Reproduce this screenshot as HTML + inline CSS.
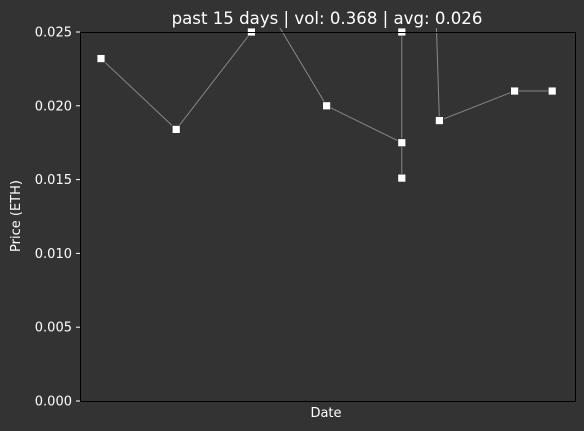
<!DOCTYPE html>
<html><head><meta charset="utf-8"><style>
html,body{margin:0;padding:0;background:#333;}
svg{display:block;font-family:"DejaVu Sans","Liberation Sans",sans-serif;}
</style></head><body>
<svg id="chart" width="584" height="431">
<rect width="584" height="431" fill="#333"/>
<text x="327" y="24" fill="#fff" font-size="16.6" text-anchor="middle">past 15 days | vol: 0.368 | avg: 0.026</text>
<text x="326" y="417" fill="#fff" font-size="13" text-anchor="middle">Date</text>
<text transform="translate(20,216) rotate(-90)" fill="#fff" font-size="13" text-anchor="middle">Price (ETH)</text>
<g id="yticks"></g>
<defs><clipPath id="clip"><rect x="80" y="28" width="496" height="374"/></clipPath></defs>
<g id="series" clip-path="url(#clip)"></g>
<rect x="80.5" y="32.5" width="495" height="369" fill="none" stroke="#000" stroke-width="1"/>
</svg>
<script>
const dayIndex = [0, 1, 2, 2.2, 3, 4, 4, 4, 4.4, 4.5, 5.5, 6];
const prices = [0.0232, 0.0184, 0.025, 0.0268, 0.020, 0.0175, 0.0151, 0.025, 0.035, 0.019, 0.021, 0.021];
const yTickValues = [0, 0.005, 0.010, 0.015, 0.020, 0.025];
const yTickLabels = ["0.000", "0.005", "0.010", "0.015", "0.020", "0.025"];

const NS = "http://www.w3.org/2000/svg";
const xScale = d => 101 + d * 75.2;
const yScale = v => 401 - (v / 0.025) * 369;

const yt = document.getElementById('yticks');
yTickValues.forEach((v, i) => {
  const y = yScale(v);
  const l = document.createElementNS(NS, 'line');
  l.setAttribute('x1', 76); l.setAttribute('x2', 80);
  l.setAttribute('y1', y); l.setAttribute('y2', y);
  l.setAttribute('stroke', '#fff');
  
  
  yt.appendChild(l);
  const t = document.createElementNS(NS, 'text');
  t.setAttribute('x', 72); t.setAttribute('y', y + 4.5);
  t.setAttribute('fill', '#fff'); t.setAttribute('font-size', '13');
  t.setAttribute('text-anchor', 'end');
  t.textContent = yTickLabels[i];
  
  
  yt.appendChild(t);
});

const s = document.getElementById('series');
const pl = document.createElementNS(NS, 'polyline');
pl.setAttribute('points', dayIndex.map((d, i) => xScale(d) + ',' + yScale(prices[i])).join(' '));
pl.setAttribute('fill', 'none');
pl.setAttribute('stroke', '#888');
pl.setAttribute('stroke-width', '1');


s.appendChild(pl);
dayIndex.forEach((d, i) => {
  const r = document.createElementNS(NS, 'rect');
  r.setAttribute('x', xScale(d) - 4); r.setAttribute('y', yScale(prices[i]) - 4);
  r.setAttribute('width', 8); r.setAttribute('height', 8);
  r.setAttribute('fill', '#fff'); r.setAttribute('stroke', '#333'); r.setAttribute('stroke-width', '0.8');
  
  
  s.appendChild(r);
});
</script>
</body></html>
